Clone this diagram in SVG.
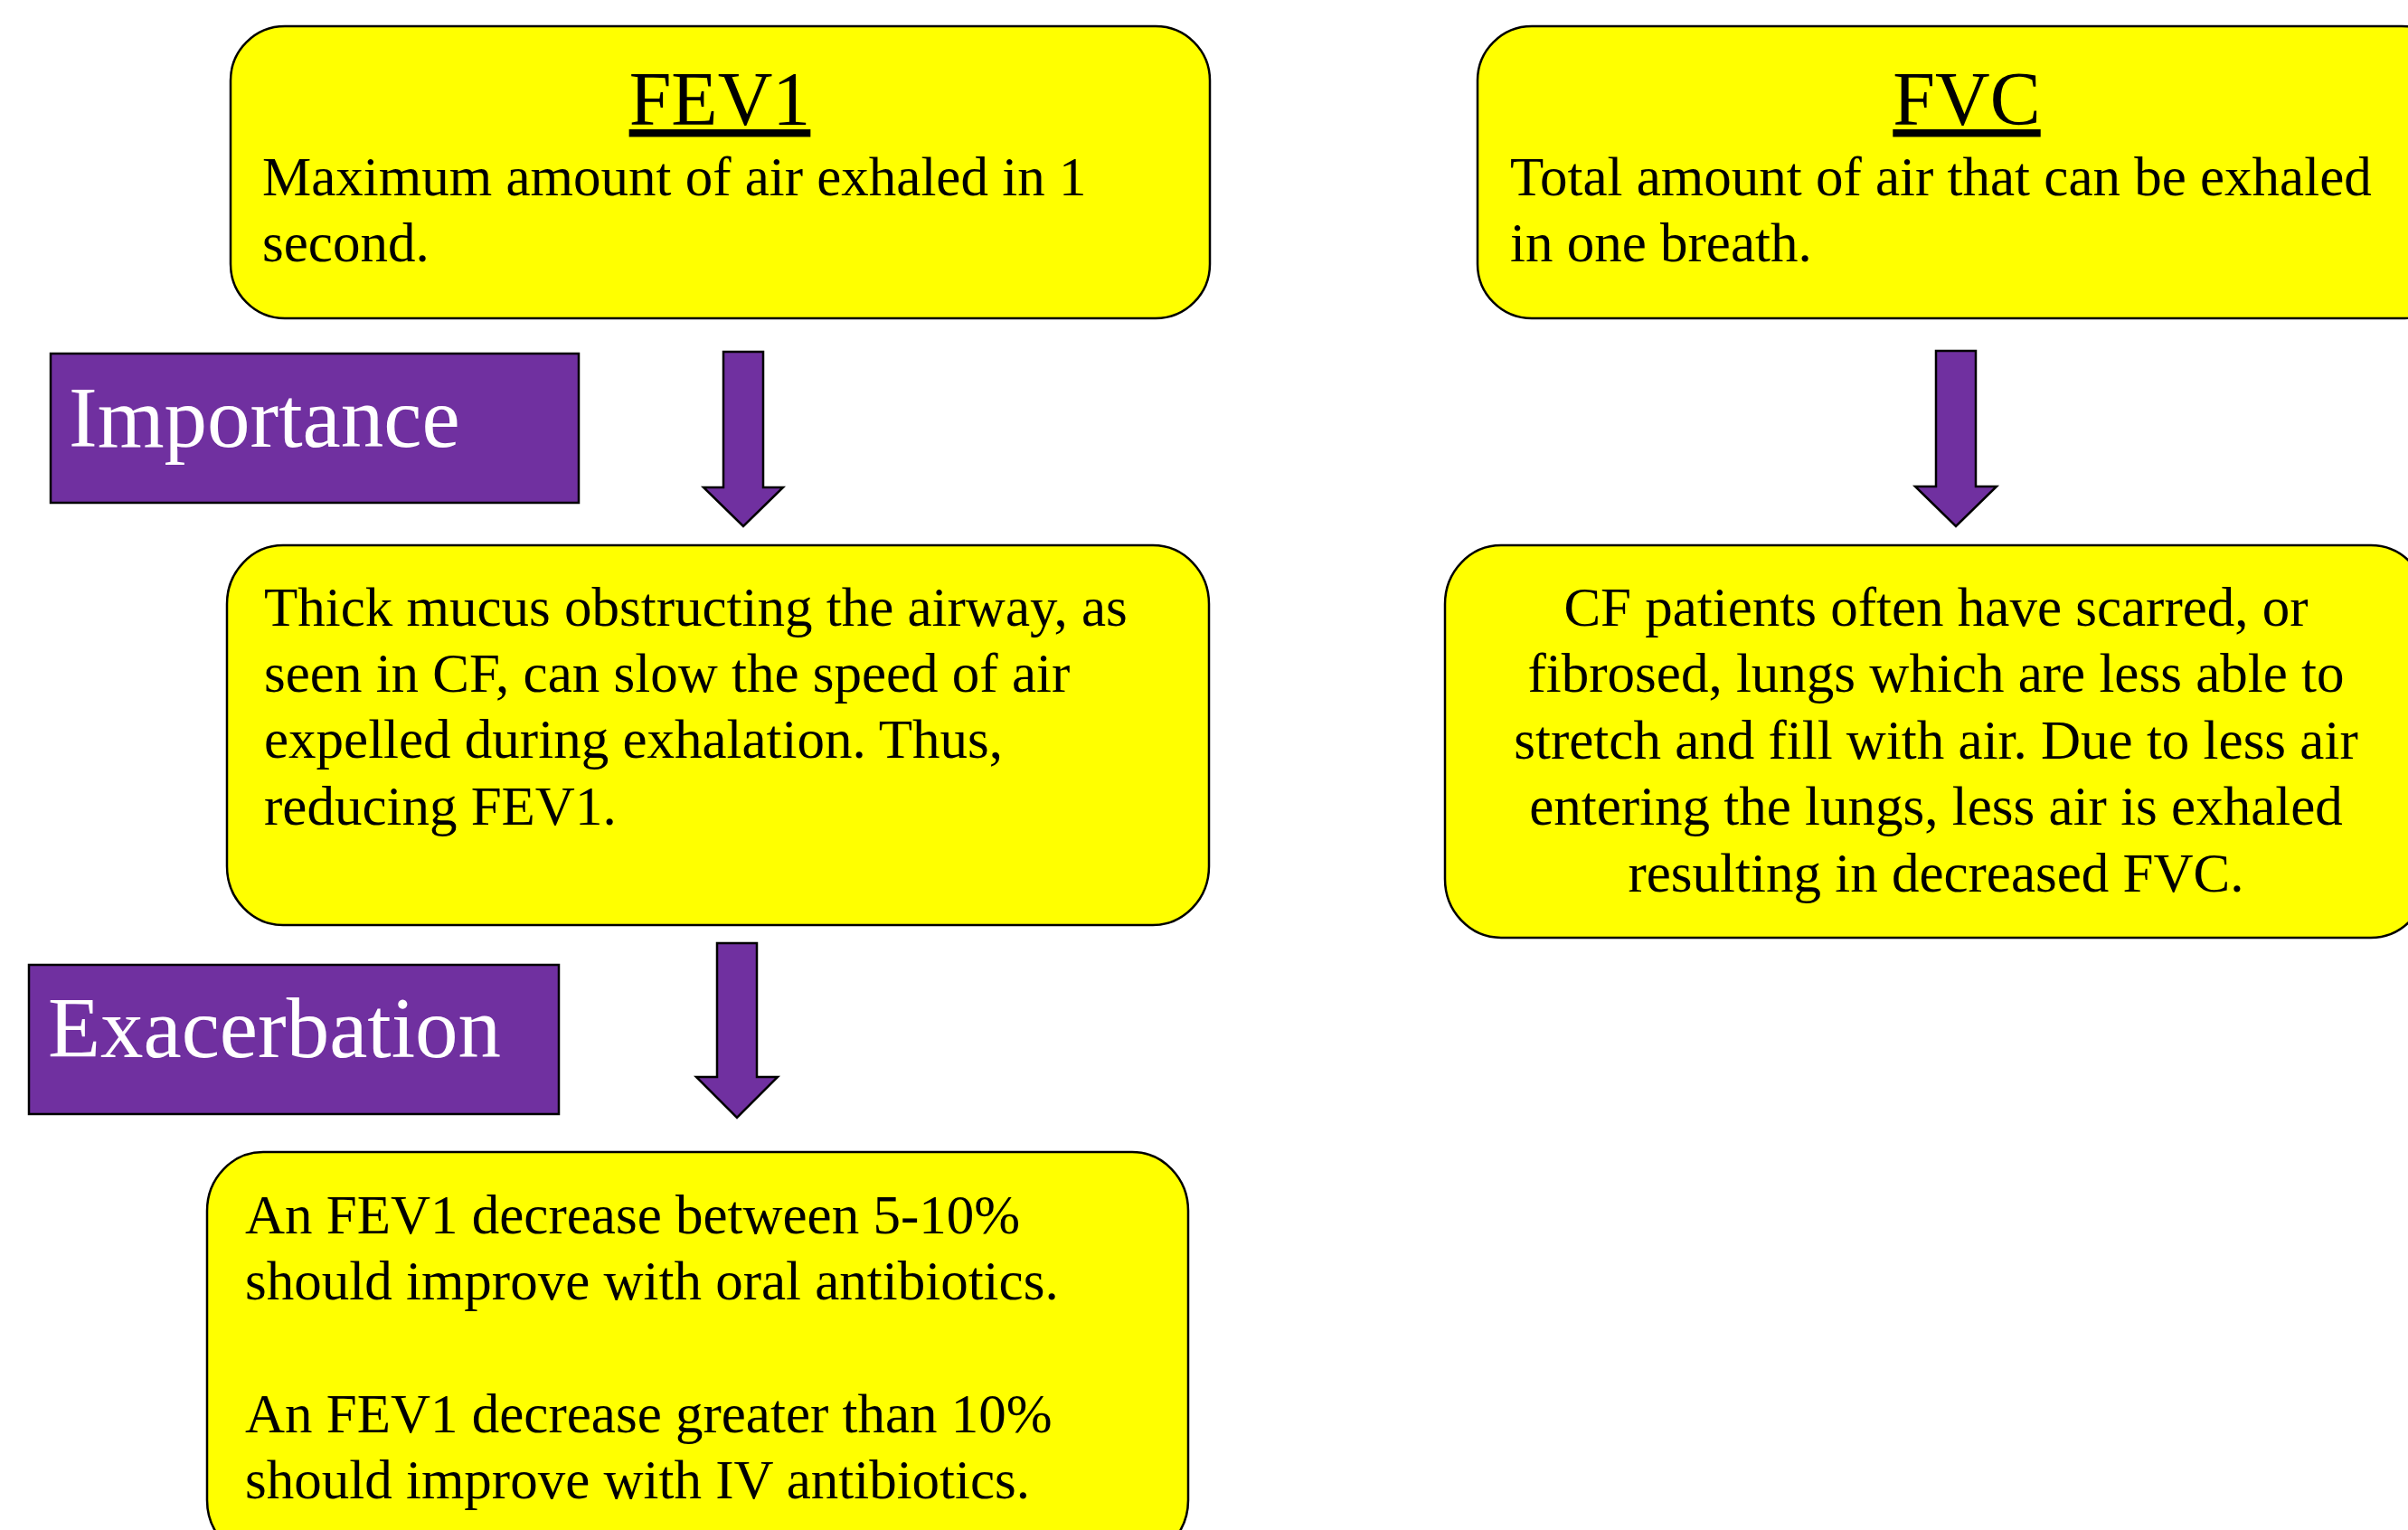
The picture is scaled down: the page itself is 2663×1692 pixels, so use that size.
<svg xmlns="http://www.w3.org/2000/svg" width="2663" height="1692" viewBox="0 0 2663 1692">
<style>
.box{fill:#FFFF00;stroke:#000;stroke-width:2.5}
.lbl{fill:#7030A0;stroke:#000;stroke-width:2.5}
.arr{fill:#7030A0;stroke:#000;stroke-width:2.5;stroke-linejoin:miter}
text{font-family:"Liberation Serif","Times New Roman",serif;fill:#000}
.t{font-size:61px}
.h{font-size:84px;text-decoration:underline}
.w{font-size:95px;fill:#fff}
</style>
<rect width="2663" height="1692" fill="#fff"/>
<g id="connectors">
<polygon class="arr" points="800,389 844,389 844,539 866,539 822,582 778,539 800,539"/>
<polygon class="arr" points="2141,388 2185,388 2185,538 2208,538 2163,582 2118,538 2141,538"/>
<polygon class="arr" points="793,1043 837,1043 837,1191 860,1191 815,1236 770,1191 793,1191"/>
</g>
<g id="fev1">
<rect class="box" x="255" y="29" width="1083" height="323" rx="60" ry="60"/>
<text class="h" x="796" y="138" text-anchor="middle">FEV1</text>
<text class="t" x="290" y="216">Maximum amount of air exhaled in 1</text>
<text class="t" x="290" y="289">second.</text>
</g>
<g id="fvc">
<rect class="box" x="1634" y="29" width="1082" height="323" rx="60" ry="60"/>
<text class="h" x="2175" y="138" text-anchor="middle">FVC</text>
<text class="t" x="1670" y="216">Total amount of air that can be exhaled</text>
<text class="t" x="1670" y="289">in one breath.</text>
</g>
<g id="importance">
<rect class="lbl" x="56" y="391" width="584" height="165"/>
<text class="w" x="76" y="494">Importance</text>
</g>
<g id="fev1-importance">
<rect class="box" x="251" y="603" width="1086" height="420" rx="62" ry="65"/>
<text class="t" x="292" y="692">Thick mucus obstructing the airway, as</text>
<text class="t" x="292" y="765">seen in CF, can slow the speed of air</text>
<text class="t" x="292" y="838">expelled during exhalation. Thus,</text>
<text class="t" x="292" y="912">reducing FEV1.</text>
</g>
<g id="fvc-importance">
<rect class="box" x="1598" y="603" width="1086" height="434" rx="62" ry="65"/>
<text class="t" x="2141" y="692" text-anchor="middle">CF patients often have scarred, or</text>
<text class="t" x="2141" y="765" text-anchor="middle">fibrosed, lungs which are less able to</text>
<text class="t" x="2141" y="839" text-anchor="middle">stretch and fill with air. Due to less air</text>
<text class="t" x="2141" y="912" text-anchor="middle">entering the lungs, less air is exhaled</text>
<text class="t" x="2141" y="986" text-anchor="middle">resulting in decreased FVC.</text>
</g>
<g id="exacerbation">
<rect class="lbl" x="32" y="1067" width="586" height="165"/>
<text class="w" x="53" y="1169">Exacerbation</text>
</g>
<g id="fev1-exacerbation">
<rect class="box" x="229" y="1274" width="1085" height="450" rx="62" ry="65"/>
<text class="t" x="271" y="1364">An FEV1 decrease between 5-10%</text>
<text class="t" x="271" y="1437">should improve with oral antibiotics.</text>
<text class="t" x="271" y="1584">An FEV1 decrease greater than 10%</text>
<text class="t" x="271" y="1657">should improve with IV antibiotics.</text>
</g>
</svg>
